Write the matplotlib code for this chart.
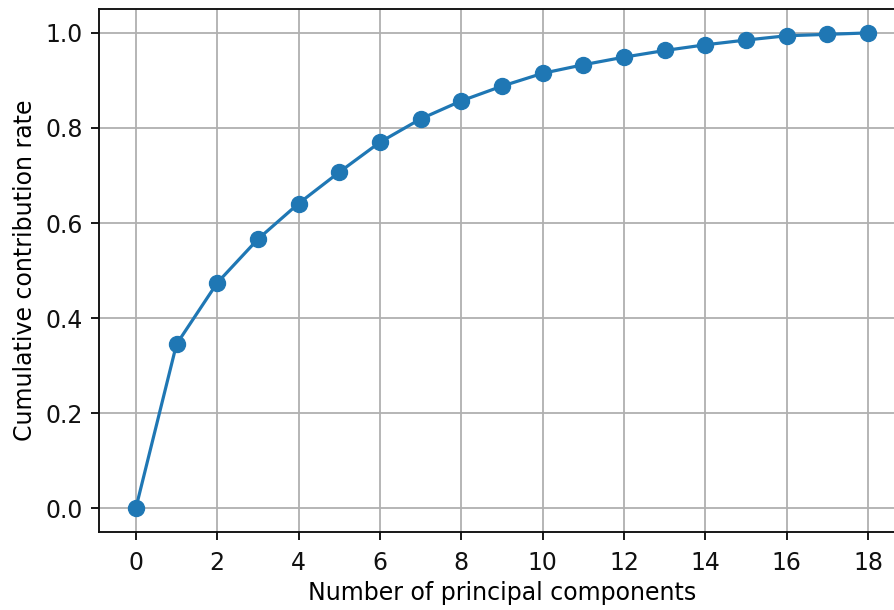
import matplotlib
matplotlib.use("Agg")
import matplotlib.pyplot as plt

components = list(range(19))
cumulative_rate = [0.0, 0.345, 0.474, 0.566, 0.641, 0.707, 0.770, 0.819, 0.857,
                   0.888, 0.915, 0.933, 0.949, 0.963, 0.975, 0.985, 0.994, 0.997, 1.0]
xticks = list(range(0, 19, 2))
yticks = [0.0, 0.2, 0.4, 0.6, 0.8, 1.0]

s = 1.7
fig = plt.figure(figsize=(8.94, 6.10), dpi=100)
ax = fig.add_axes([0.111, 0.128, 0.901, 0.857])
ax.plot(components, cumulative_rate, marker='o', color='#1f77b4',
        linewidth=2.3, markersize=11.5, zorder=3)
ax.set_xticks(xticks)
ax.set_yticks(yticks)
ax.grid(True, color='#b0b0b0', linewidth=1.3)
ax.set_xlabel('Number of principal components', fontsize=10 * s, labelpad=4)
ax.set_ylabel('Cumulative contribution rate', fontsize=10 * s, labelpad=6)
ax.tick_params(labelsize=10 * s, width=0.8 * s, length=3.5 * s, pad=3.5 * s,
               colors='#111111')
ax.tick_params(axis='x', pad=3.5 * s + 2)
for sp in ax.spines.values():
    sp.set_linewidth(0.8 * s)
    sp.set_color('#111111')
ax.set_axisbelow(True)
fig.savefig('out.png', dpi=100)
